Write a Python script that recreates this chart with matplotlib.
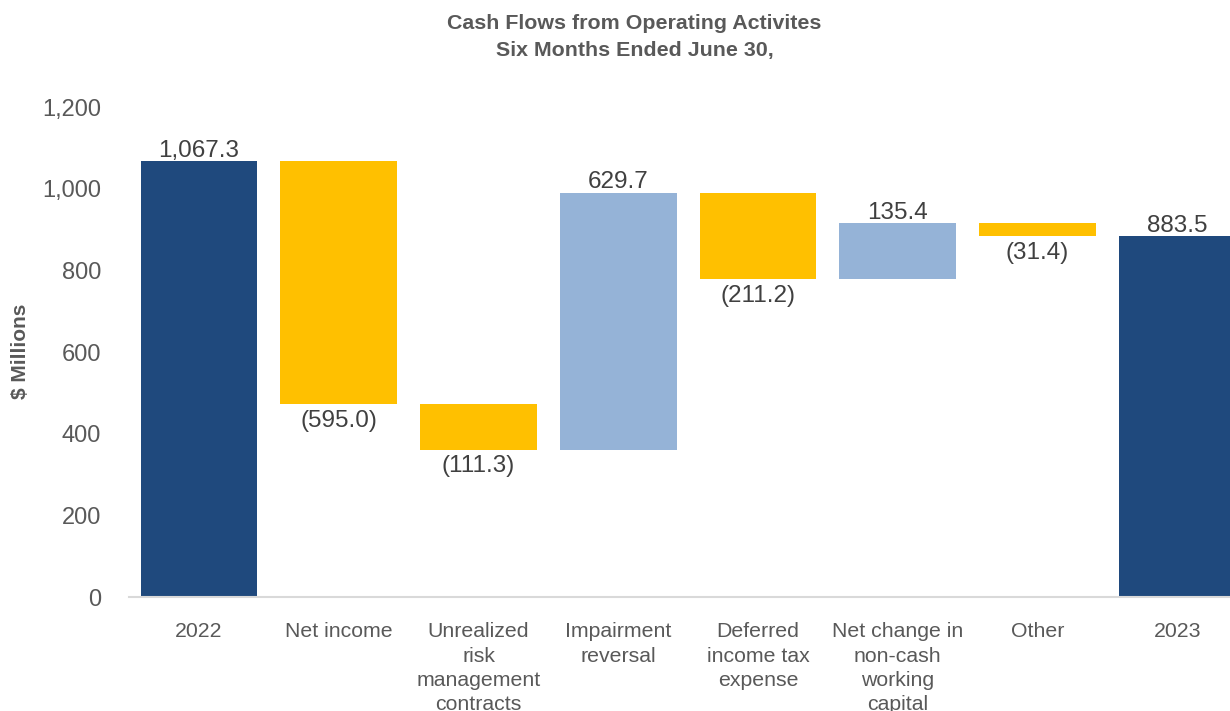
import matplotlib

matplotlib.use("Agg")
import matplotlib.pyplot as plt
import numpy as np

categories = [
    "2022",
    "Net income",
    "Unrealized\nrisk\nmanagement\ncontracts",
    "Impairment\nreversal",
    "Deferred\nincome tax\nexpense",
    "Net change in\nnon-cash\nworking\ncapital",
    "Other",
    "2023",
]
changes = [1067.3, -595.0, -111.3, 629.7, -211.2, 135.4, -31.4, 883.5]
kinds = ["total", "step", "step", "step", "step", "step", "step", "total"]
yticks = [0, 200, 400, 600, 800, 1000, 1200]

NAVY = "#1F497D"
YELLOW = "#FFC000"
LIGHT = "#95B3D7"
TEXT = "#595959"

plt.rcParams["font.family"] = ["Liberation Sans", "DejaVu Sans"]


def fmt(v: float) -> str:
    s = f"{abs(v):,.1f}"
    return f"({s})" if v < 0 else s


fig = plt.figure(figsize=(12.3, 7.11), dpi=100)
# right edge runs past the figure, so the last bar is clipped like in the source
ax = fig.add_axes([0.105, 0.16, 0.909, 0.6895])

x = np.arange(len(categories))
running = 0.0
for i, (v, kind) in enumerate(zip(changes, kinds)):
    if kind == "total":
        bottom, height, color = 0.0, v, NAVY
        running = v
    else:
        bottom = running if v >= 0 else running + v
        height = abs(v)
        color = LIGHT if v >= 0 else YELLOW
        running += v
    ax.bar(x[i], height, bottom=bottom, width=0.835, color=color)
    if v >= 0:
        ax.text(x[i], bottom + height - 2, fmt(v), ha="center", va="bottom",
                fontsize=17.5, color="#404040")
    else:
        ax.text(x[i], bottom - 14, fmt(v), ha="center", va="top",
                fontsize=17.5, color="#404040")

ax.set_xlim(-0.5, len(categories) - 0.5)
ax.set_ylim(0, 1200)
ax.set_yticks(yticks)
ax.set_yticklabels([f"{t:,}" for t in yticks], fontsize=17, color=TEXT)
ax.set_xticks(x)
ax.set_xticklabels(categories, fontsize=15.3, color=TEXT, linespacing=1.36, va="top")
ax.tick_params(axis="both", length=0)
ax.tick_params(axis="x", pad=18)
ax.tick_params(axis="y", pad=20)
for side in ["top", "right", "left"]:
    ax.spines[side].set_visible(False)
ax.spines["bottom"].set_color("#D9D9D9")
ax.spines["bottom"].set_linewidth(1.5)

fig.text(20 / 1230, 0.506, "$ Millions", rotation=90, ha="center", va="center",
         fontsize=15, fontweight="bold", color=TEXT)
fig.text(0.516, 0.98, "Cash Flows from Operating Activites\nSix Months Ended June 30,",
         ha="center", va="top", fontsize=15.4, fontweight="bold", color=TEXT,
         linespacing=1.55)

fig.savefig("out.png", dpi=100)
